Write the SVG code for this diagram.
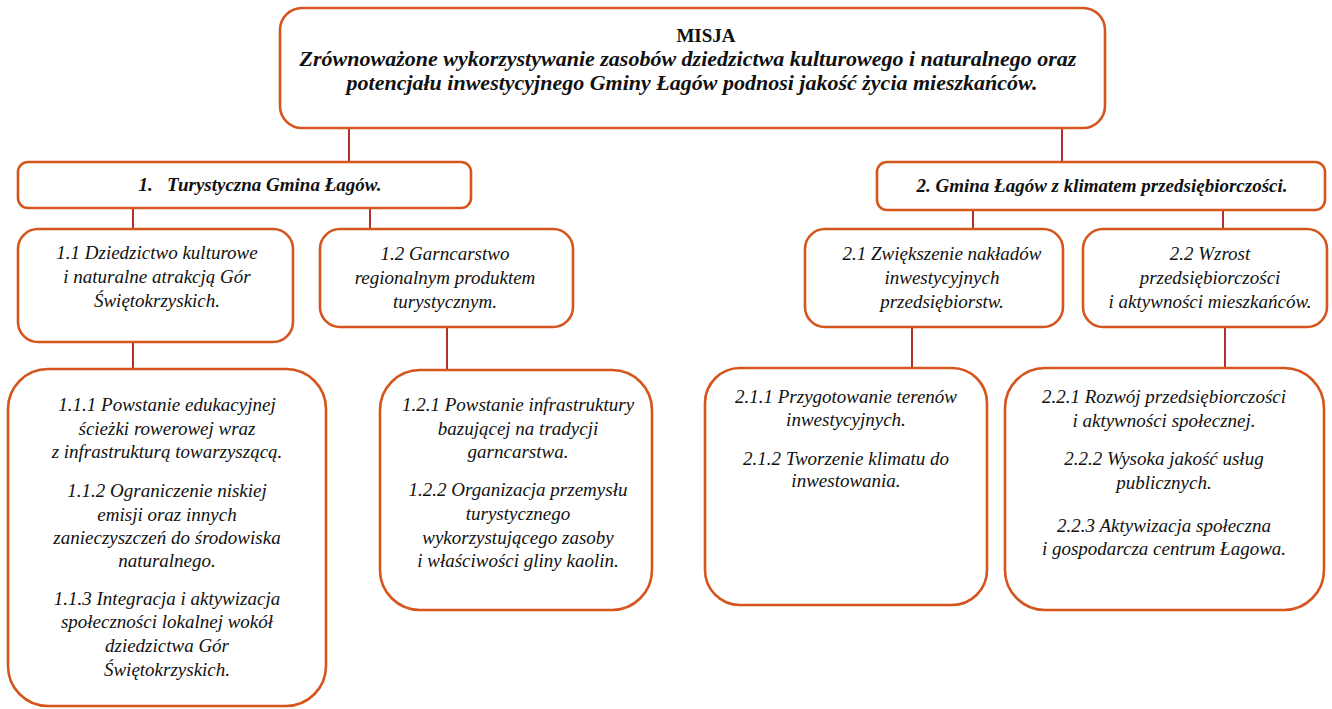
<svg xmlns="http://www.w3.org/2000/svg" width="1332" height="709" viewBox="0 0 1332 709">
<style>
.box{fill:#fff;stroke:#d4561c;stroke-width:2.6}
.con{stroke:#b0302a;stroke-width:2;fill:none}
.t{font-family:'Liberation Serif','Times New Roman',Times,serif;font-style:italic;font-size:19px;fill:#111;text-anchor:middle}
.b{font-weight:bold}
.n{font-style:normal}
.m{font-size:22px}
</style>
<rect width="1332" height="709" fill="#fff"/>
<g id="connectors">
<line class="con" x1="349" y1="128" x2="349" y2="162"/>
<line class="con" x1="1062" y1="128" x2="1062" y2="162"/>
<line class="con" x1="133" y1="208" x2="133" y2="229"/>
<line class="con" x1="370" y1="208" x2="370" y2="229"/>
<line class="con" x1="973" y1="210" x2="973" y2="229"/>
<line class="con" x1="1223" y1="210" x2="1223" y2="229"/>
<line class="con" x1="133" y1="342" x2="133" y2="369"/>
<line class="con" x1="447" y1="327" x2="447" y2="370"/>
<line class="con" x1="912" y1="327" x2="912" y2="368"/>
<line class="con" x1="1225" y1="327" x2="1225" y2="368"/>
</g>
<g id="misja">
<rect class="box" x="280" y="8" width="825" height="120" rx="22"/>
<text class="t b n" x="706" y="42">MISJA</text>
<text class="t b m" x="688" y="66">Zrównoważone wykorzystywanie zasobów dziedzictwa kulturowego i naturalnego oraz</text>
<text class="t b m" x="692" y="90">potencjału inwestycyjnego Gminy Łagów podnosi jakość życia mieszkańców.</text>
</g>
<g id="c1">
<rect class="box" x="18" y="162" width="453" height="46" rx="10"/>
<text class="t b" x="260" y="191" xml:space="preserve">1.   Turystyczna Gmina Łagów.</text>
</g>
<g id="c2">
<rect class="box" x="877" y="162" width="448" height="48" rx="10"/>
<text class="t b" x="1102" y="192">2. Gmina Łagów z klimatem przedsiębiorczości.</text>
</g>
<g id="c11">
<rect class="box" x="18" y="229" width="275" height="113" rx="20"/>
<text class="t" x="157" y="259">1.1 Dziedzictwo kulturowe</text>
<text class="t" x="157" y="283">i naturalne atrakcją Gór</text>
<text class="t" x="157" y="307">Świętokrzyskich.</text>
</g>
<g id="c12">
<rect class="box" x="320" y="229" width="253" height="98" rx="20"/>
<text class="t" x="445" y="260">1.2 Garncarstwo</text>
<text class="t" x="445" y="284">regionalnym produktem</text>
<text class="t" x="445" y="308">turystycznym.</text>
</g>
<g id="c21">
<rect class="box" x="805" y="229" width="258" height="98" rx="20"/>
<text class="t" x="942" y="260">2.1 Zwiększenie nakładów</text>
<text class="t" x="942" y="284">inwestycyjnych</text>
<text class="t" x="942" y="308">przedsiębiorstw.</text>
</g>
<g id="c22">
<rect class="box" x="1083" y="229" width="244" height="98" rx="20"/>
<text class="t" x="1210" y="260">2.2 Wzrost</text>
<text class="t" x="1210" y="284">przedsiębiorczości</text>
<text class="t" x="1210" y="308">i aktywności mieszkańców.</text>
</g>
<g id="c111">
<rect class="box" x="8" y="369" width="318" height="337" rx="40"/>
<text class="t" x="167" y="411">1.1.1 Powstanie edukacyjnej</text>
<text class="t" x="167" y="435">ścieżki rowerowej wraz</text>
<text class="t" x="167" y="458">z infrastrukturą towarzyszącą.</text>
<text class="t" x="167" y="497">1.1.2 Ograniczenie niskiej</text>
<text class="t" x="167" y="521">emisji oraz innych</text>
<text class="t" x="167" y="544">zanieczyszczeń do środowiska</text>
<text class="t" x="167" y="567">naturalnego.</text>
<text class="t" x="167" y="605">1.1.3 Integracja i aktywizacja</text>
<text class="t" x="167" y="628">społeczności lokalnej wokół</text>
<text class="t" x="167" y="652">dziedzictwa Gór</text>
<text class="t" x="167" y="676">Świętokrzyskich.</text>
</g>
<g id="c121">
<rect class="box" x="380" y="370" width="272" height="240" rx="40"/>
<text class="t" x="518" y="411">1.2.1 Powstanie infrastruktury</text>
<text class="t" x="518" y="435">bazującej na tradycji</text>
<text class="t" x="518" y="458">garncarstwa.</text>
<text class="t" x="518" y="496">1.2.2 Organizacja przemysłu</text>
<text class="t" x="518" y="520">turystycznego</text>
<text class="t" x="518" y="544">wykorzystującego zasoby</text>
<text class="t" x="518" y="567">i właściwości gliny kaolin.</text>
</g>
<g id="c211">
<rect class="box" x="705" y="368" width="282" height="237" rx="35"/>
<text class="t" x="846" y="403">2.1.1 Przygotowanie terenów</text>
<text class="t" x="846" y="426">inwestycyjnych.</text>
<text class="t" x="846" y="465">2.1.2 Tworzenie klimatu do</text>
<text class="t" x="846" y="487">inwestowania.</text>
</g>
<g id="c221">
<rect class="box" x="1005" y="368" width="319" height="242" rx="40"/>
<text class="t" x="1164" y="403">2.2.1 Rozwój przedsiębiorczości</text>
<text class="t" x="1164" y="427">i aktywności społecznej.</text>
<text class="t" x="1164" y="465">2.2.2 Wysoka jakość usług</text>
<text class="t" x="1164" y="489">publicznych.</text>
<text class="t" x="1164" y="532">2.2.3 Aktywizacja społeczna</text>
<text class="t" x="1164" y="555">i gospodarcza centrum Łagowa.</text>
</g>
</svg>
